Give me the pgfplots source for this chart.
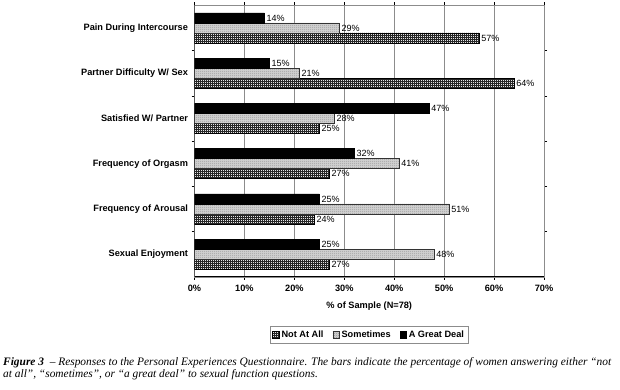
\documentclass[border=0pt]{standalone}
\usepackage{pgfplots}
\pgfplotsset{compat=1.18}
\usetikzlibrary{patterns}
\usepackage{fontspec}
\setmainfont{Liberation Sans}
\newfontfamily\capfont{Liberation Serif}

\pgfdeclarepatternformonly{finegrid}{\pgfqpoint{-1pt}{-1pt}}{\pgfqpoint{1pt}{1pt}}{\pgfqpoint{2pt}{2pt}}{%
  \pgfsetlinewidth{0.6pt}%
  \pgfpathmoveto{\pgfqpoint{0pt}{-1pt}}\pgfpathlineto{\pgfqpoint{0pt}{1pt}}%
  \pgfpathmoveto{\pgfqpoint{-1pt}{0pt}}\pgfpathlineto{\pgfqpoint{1pt}{0pt}}%
  \pgfusepath{stroke}}
\pgfdeclarepatternformonly{finestipple}{\pgfqpoint{0pt}{0pt}}{\pgfqpoint{2pt}{2pt}}{\pgfqpoint{2pt}{2pt}}{%
  \pgfpathrectangle{\pgfqpoint{0pt}{0pt}}{\pgfqpoint{0.7pt}{0.7pt}}%
  \pgfpathrectangle{\pgfqpoint{1pt}{1pt}}{\pgfqpoint{0.7pt}{0.7pt}}%
  \pgfusepath{fill}}

\definecolor{gridgray}{RGB}{140,140,140}

\begin{document}
\begin{tikzpicture}
\path[use as bounding box] (0,0) rectangle (620pt,-389pt);
\begin{axis}[
  at={(194.5pt,-5.3pt)}, anchor=north west,
  scale only axis, width=349.5pt, height=271.5pt,
  xbar, bar width=10pt,
  xmin=0, xmax=70, ymin=-0.5, ymax=5.5,
  xtick={0,10,...,70},
  xticklabels={0\%,10\%,20\%,30\%,40\%,50\%,60\%,70\%},
  ytick={0,1,2,3,4,5},
  yticklabels={Sexual Enjoyment,Frequency of Arousal,Frequency of Orgasm,Satisfied W/ Partner,Partner Difficulty W/ Sex,Pain During Intercourse},
  minor ytick={0.5,1.5,2.5,3.5,4.5},
  ytick style={draw=none},
  minor y tick style={draw=black, thin},
  x tick style={draw=black, thin},
  tick align=outside,
  major tick length=3pt, minor tick length=3pt,
  xmajorgrids, major x grid style={gridgray, line width=0.5pt},
  axis line style={gridgray, line width=0.6pt},
  /pgf/number format/assume math mode=true,
  ticklabel style={font=\bfseries\fontsize{9.2}{10}\selectfont},
  xticklabel style={yshift=-2pt},
  xlabel={\% of Sample (N=78)},
  every axis x label/.style={at={(rel axis cs:0.5,0)}, anchor=center, yshift=-29pt,
    font=\bfseries\fontsize{9.2}{10}\selectfont},
  nodes near coords={\pgfmathprintnumber{\pgfplotspointmeta}\%},
  nodes near coords style={font=\fontsize{9}{10}\selectfont, anchor=west, inner sep=2pt},
  legend columns=3,
  legend style={at={(0.5,-0.2136)}, anchor=center, draw=gridgray,
    font=\bfseries\fontsize{9.2}{10}\selectfont, inner sep=2.5pt,
    /tikz/every even column/.append style={column sep=7pt}},
  legend image code/.code={\draw[#1] (0pt,-3.3pt) rectangle (6.6pt,3.3pt);},
]
\addplot[bar shift=-10pt, draw=black, line width=0.5pt, fill=black!10, postaction={pattern=finegrid, pattern color=black!85}]
  coordinates {(27,0) (24,1) (27,2) (25,3) (64,4) (57,5)};
\addplot[bar shift=0pt, draw=black!80, line width=0.5pt, fill=black!18, postaction={pattern=finestipple, pattern color=black!55}]
  coordinates {(48,0) (51,1) (41,2) (28,3) (21,4) (29,5)};
\addplot[bar shift=10pt, draw=black, line width=0.5pt, fill=black]
  coordinates {(25,0) (25,1) (32,2) (47,3) (15,4) (14,5)};
\legend{Not At All, Sometimes, A Great Deal}
\draw[black, line width=0.7pt] (rel axis cs:0,0) -- (rel axis cs:0,1);
\draw[black, line width=0.7pt] (rel axis cs:0,0) -- (rel axis cs:1,0);
\end{axis}
\node[anchor=north west, inner sep=0pt, align=left, font=\capfont\itshape\fontsize{11.4}{12.3}\selectfont] at (3pt,-357pt)
  {{\bfseries Figure 3}\ \ – Responses to the Personal Experiences Questionnaire. The bars indicate the percentage of women answering either “not\\
   at all”, “sometimes”, or “a great deal” to sexual function questions.};
\end{tikzpicture}
\end{document}
